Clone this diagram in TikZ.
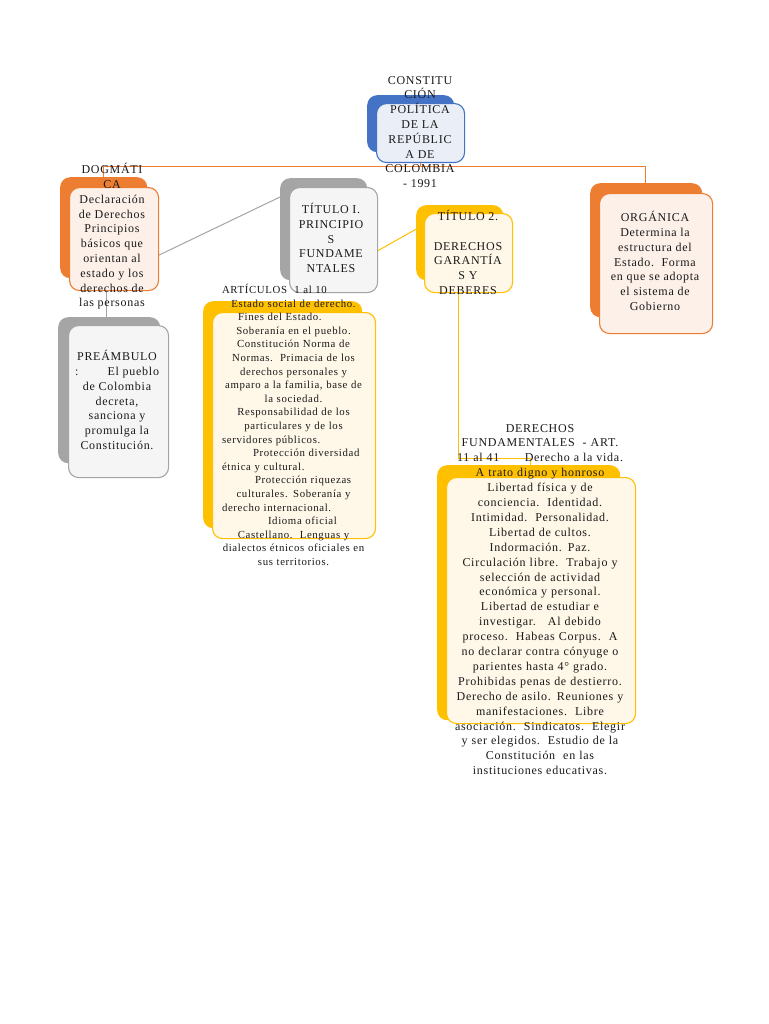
\documentclass[tikz,border=0pt]{standalone}
\usepackage{fontspec}
\setmainfont{Liberation Serif}
\newfontfamily\lsf[LetterSpace=6]{Liberation Serif}
\usetikzlibrary{calc}
\definecolor{cblue}{HTML}{4472C4}
\definecolor{corange}{HTML}{ED7D31}
\definecolor{cgray}{HTML}{A5A5A5}
\definecolor{cyellow}{HTML}{FFC000}
\definecolor{fblue}{HTML}{E9EEF7}
\definecolor{forange}{HTML}{FCF0E9}
\definecolor{fgray}{HTML}{F5F5F5}
\definecolor{fyellow}{HTML}{FFF8E8}
\definecolor{ctext}{HTML}{1A1A1A}
\pgfdeclarelayer{bg}
\pgfdeclarelayer{paper}
\pgfsetlayers{paper,bg,main}
\tikzset{
  backbox/.style={rectangle, rounded corners=10pt, draw=none, anchor=north west, inner sep=0pt},
  frontbox/.style={rectangle, rounded corners=10pt, line width=1.1pt, anchor=north west, inner sep=0pt},
  txt/.style={align=center, inner sep=0pt, text=ctext, font=\lsf\fontsize{12}{14.8}\selectfont},
  smalltxt/.style={align=center, inner sep=0pt, text=ctext, font=\lsf\fontsize{10.8}{13.6}\selectfont},
  conn/.style={line width=1pt}
}
\begin{document}
\begin{tikzpicture}[x=1pt,y=-1pt]
\useasboundingbox (0,0) rectangle (768,1024);
\begin{pgfonlayer}{paper}
\fill[white] (0,0) rectangle (768,1024);
\end{pgfonlayer}
% root
\node[backbox, fill=cblue, minimum width=87pt, minimum height=57pt] (rootB) at (367,95) {};
\node[frontbox, draw=cblue, fill=fblue, minimum width=88pt, minimum height=59pt] (rootF) at (376,103) {};
% dogmatica
\node[backbox, fill=corange, minimum width=87pt, minimum height=101pt] (dogB) at (60,177) {};
\node[frontbox, draw=corange, fill=forange, minimum width=89pt, minimum height=103pt] (dogF) at (69,187) {};
% preambulo
\node[backbox, fill=cgray, minimum width=102pt, minimum height=146pt] (preB) at (58,317) {};
\node[frontbox, draw=cgray, fill=fgray, minimum width=100pt, minimum height=152pt] (preF) at (68,325) {};
% titulo I
\node[backbox, fill=cgray, minimum width=87pt, minimum height=102pt] (titIB) at (280,178) {};
\node[frontbox, draw=cgray, fill=fgray, minimum width=88pt, minimum height=105pt] (titIF) at (289,187) {};
% titulo 2
\node[backbox, fill=cyellow, minimum width=87pt, minimum height=75pt] (titIIB) at (416,205) {};
\node[frontbox, draw=cyellow, fill=fyellow, minimum width=88pt, minimum height=79pt] (titIIF) at (424,213) {};
% organica
\node[backbox, fill=corange, minimum width=112pt, minimum height=134pt] (orgB) at (590,183) {};
\node[frontbox, draw=corange, fill=forange, minimum width=113pt, minimum height=140pt] (orgF) at (599,193) {};
% articulos
\node[backbox, fill=cyellow, minimum width=159pt, minimum height=227pt] (artB) at (203,301) {};
\node[frontbox, draw=cyellow, fill=fyellow, minimum width=163pt, minimum height=226pt] (artF) at (212,312) {};
% derechos fundamentales
\node[backbox, fill=cyellow, minimum width=183pt, minimum height=255pt] (derB) at (437,465) {};
\node[frontbox, draw=cyellow, fill=fyellow, minimum width=189pt, minimum height=246pt] (derF) at (446,477) {};

% connectors
\coordinate (hL) at (103,167);
\coordinate (hR) at (645,167);
\coordinate (pv) at (106,0);
\coordinate (yv) at (458,0);
\coordinate (ey) at (530,458);
\begin{pgfonlayer}{bg}
\draw[conn, corange] (rootF.south) -- (rootF.south |- hL);
\draw[conn, corange] (hL |- dogB.north) -- (hL) -- (hR) -- (hR |- orgB.north);
\draw[conn, cgray] ([yshift=-16pt]dogF.east) -- ([yshift=-19pt]titIB.north west);
\draw[conn, cgray, line width=0.8pt] (pv |- dogF.south) -- (pv |- preB.north);
\draw[conn, cyellow] ([yshift=-10.5pt]titIF.east) -- ([yshift=13.5pt]titIIB.west);
\draw[conn, cyellow] (yv |- titIIF.south) -- (yv |- ey) -- (ey) -- (ey |- derB.north);
\end{pgfonlayer}

% texts
\node[txt] (rootT) at (420,132) {CONSTITU\\CIÓN\\POLÍTICA\\DE LA\\REPÚBLIC\\A DE\\COLOMBIA\\- 1991};
\node[txt] (dogT) at (112,236.5) {DOGMÁTI\\CA\\Declaración\\de Derechos\\Principios\\básicos que\\orientan al\\estado y los\\derechos de\\las personas};
\node[txt] (preT) at (117,400) {PREÁMBULO\\\makebox[84pt]{:\hfill El pueblo}\\de Colombia\\decreta,\\sanciona y\\promulga la\\Constitución.};
\node[txt] (titIT) at (331,238) {TÍTULO I.\\PRINCIPIO\\S\\FUNDAME\\NTALES};
\node[txt] (titIIT) at (468,252.5) {TÍTULO 2.\\[14.8pt]DERECHOS\\GARANTÍA\\S Y\\DEBERES};
\node[txt] (orgT) at (655,261) {ORGÁNICA\\Determina la\\estructura del\\Estado.\ \ Forma\\en que se adopta\\el sistema de\\Gobierno};
\node[smalltxt, text width=143pt] (artT) at (293.5,425) {%
\makebox[143pt][l]{ARTÍCULOS\ \ 1 al 10}\\
Estado social de derecho.\\
\makebox[143pt][l]{\hspace{16pt}Fines del Estado.}\\
Soberanía en el pueblo.\\
Constitución Norma de\\
Normas.\ \ Primacia de los\\
derechos personales y\\
amparo a la familia, base de\\
la sociedad.\\
Responsabilidad de los\\
particulares y de los\\
\makebox[143pt][l]{servidores públicos.}\\
\makebox[143pt][l]{\hspace{31pt}Protección diversidad}\\
\makebox[143pt][l]{étnica y cultural.}\\
\makebox[143pt][l]{\hspace{33pt}Protección riquezas}\\
culturales. Soberanía y\\
\makebox[143pt][l]{derecho internacional.}\\
\makebox[143pt][l]{\hspace{46pt}Idioma oficial}\\
Castellano.\ \ Lenguas y\\
dialectos étnicos oficiales en\\
sus territorios.};
\node[txt, text width=180pt, font=\lsf\fontsize{12}{14.9}\selectfont] (derT) at (540,599.5) {%
DERECHOS\\
FUNDAMENTALES\ \ - ART.\\
\makebox[166pt]{11 al 41\hfill Derecho a la vida.}\\
A trato digno y honroso\\
Libertad física y de\\
conciencia.\ \ Identidad.\\
Intimidad.\ \ Personalidad.\\
Libertad de cultos.\\
Indormación. Paz.\\
Circulación libre.\ \ Trabajo y\\
selección de actividad\\
económica y personal.\\
Libertad de estudiar e\\
investigar.\ \ \ Al debido\\
proceso.\ \ Habeas Corpus.\ \ A\\
no declarar contra cónyuge o\\
parientes hasta 4° grado.\\
Prohibidas penas de destierro.\\
Derecho de asilo. Reuniones y\\
manifestaciones.\ \ Libre\\
asociación.\ \ Sindicatos.\ \ Elegir\\
y ser elegidos.\ \ Estudio de la\\
Constitución\ \ en las\\
instituciones educativas.};
\end{tikzpicture}
\end{document}
